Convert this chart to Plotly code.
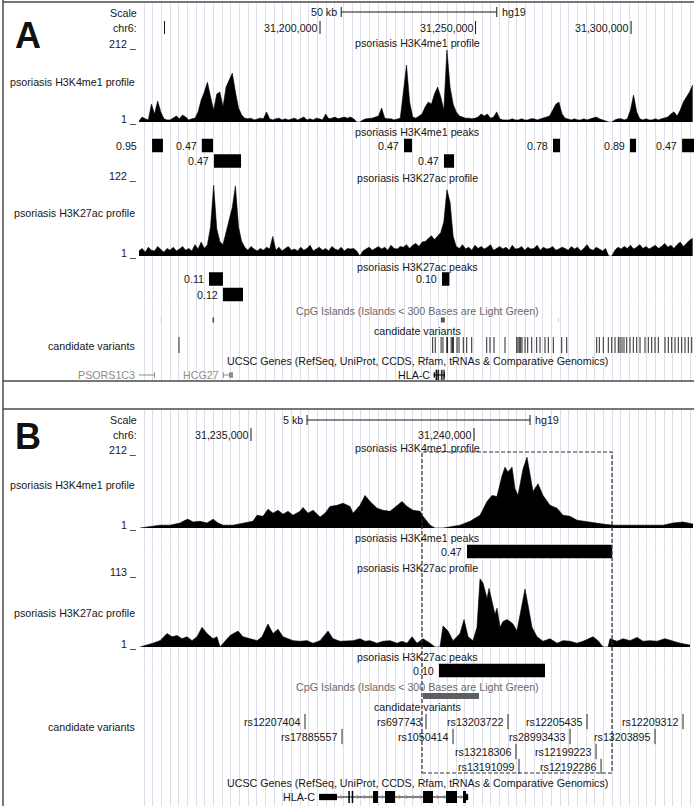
import plotly.graph_objects as go
import numpy as np

W, H = 697, 806
FONT = "Liberation Sans, Arial, Helvetica, sans-serif"
FS = 10.7
TXT = "#161616"
GREY_TXT = "#6a6a6a"
GENE_GREY = "#8c8c8c"
GRID = "#dfdfeb"

# ======================= DATA =======================
# ---- Panel A: chr6 wide window (hg19) ----
A_START, A_END = 31141800, 31320230
A_BIN = 1000
A_K4ME1 = [3, 14, 9, 6, 51, 23, 60, 29, 9, 6,
           6, 11, 17, 9, 20, 14, 6, 9, 11, 29,
           63, 86, 114, 72, 34, 80, 86, 43, 100, 120,
           140, 86, 40, 20, 11, 9, 11, 6, 9, 11,
           9, 29, 9, 6, 9, 11, 6, 9, 6, 9,
           11, 6, 9, 14, 6, 9, 6, 11, 9, 6,
           23, 9, 11, 14, 9, 11, 14, 11, 14, 9,
           0, 0, 6, 9, 9, 11, 14, 17, 40, 11,
           9, 9, 6, 9, 11, 86, 163, 57, 14, 11,
           17, 23, 43, 57, 51, 80, 100, 72, 34, 206,
           100, 51, 29, 17, 14, 11, 11, 9, 11, 14,
           23, 17, 23, 11, 14, 29, 9, 6, 6, 6,
           9, 6, 6, 9, 6, 6, 9, 9, 6, 9,
           11, 14, 17, 34, 51, 57, 23, 11, 9, 6,
           9, 6, 6, 9, 6, 9, 11, 14, 9, 6,
           3, 0, 0, 6, 9, 9, 6, 9, 34, 77,
           29, 9, 6, 9, 6, 6, 9, 6, 9, 11,
           14, 23, 29, 17, 34, 57, 72, 86, 106]
A_K27AC = [8, 12, 6, 14, 9, 8, 15, 11, 6, 12,
           9, 14, 8, 11, 15, 9, 12, 8, 18, 11,
           22, 12, 18, 46, 112, 43, 23, 18, 39, 55,
           77, 111, 46, 23, 14, 9, 15, 11, 8, 12,
           9, 14, 11, 31, 9, 14, 8, 12, 15, 9,
           11, 8, 14, 9, 12, 17, 8, 11, 14, 9,
           12, 8, 15, 11, 9, 14, 8, 12, 11, 12,
           8, 0, 8, 11, 14, 9, 12, 15, 11, 14,
           9, 17, 12, 11, 15, 14, 18, 12, 17, 20,
           15, 22, 23, 28, 32, 26, 31, 37, 54, 105,
           85, 31, 15, 12, 18, 11, 14, 9, 17, 12,
           15, 11, 14, 18, 9, 12, 15, 11, 14, 9,
           17, 11, 12, 15, 9, 14, 11, 12, 17, 9,
           14, 11, 12, 15, 9, 11, 14, 12, 9, 15,
           11, 14, 8, 12, 18, 11, 9, 14, 11, 8,
           12, 0, 0, 9, 14, 11, 15, 12, 17, 11,
           14, 18, 12, 15, 11, 14, 17, 12, 15, 20,
           14, 17, 12, 18, 22, 15, 20, 25, 28]
A_K4ME1_MAX, A_K27AC_MAX = 212, 122
A_RULER_TICKS = [31150000, 31200000, 31250000, 31300000]
A_RULER_LABELED = [False, True, True, True]
A_SCALE_BAR = [31206820, 31256820]
A_SCALE_LABEL = "50 kb"

# ---- Panel B: zoom on HLA-C ----
B_START, B_END = 31232489, 31244932
B_K4ME1_POS = [31232512, 31232736, 31232960, 31233184, 31233409, 31233521, 31233588, 31233700, 31233857, 31234014,
               31234149, 31234261, 31234373, 31234597, 31234821, 31235045, 31235135, 31235269, 31235381, 31235493,
               31235605, 31235718, 31235830, 31235942, 31236099, 31236166, 31236278, 31236391, 31236548, 31236660,
               31236772, 31236929, 31237064, 31237220, 31237287, 31237444, 31237556, 31237668, 31237825, 31237960,
               31238117, 31238274, 31238386, 31238498, 31238633, 31238790, 31238857, 31239014, 31239126, 31239305,
               31239462, 31239686, 31239910, 31240135, 31240292, 31240403, 31240515, 31240627, 31240695, 31240762,
               31240852, 31240919, 31240986, 31241099, 31241188, 31241256, 31241323, 31241435, 31241547, 31241704,
               31241861, 31241996, 31242153, 31242310, 31242444, 31242669, 31242893, 31243117, 31243341, 31243565,
               31243789, 31244013, 31244237, 31244461, 31244686, 31244910]
B_K4ME1_VAL = [0, 3, 8, 8, 14, 22, 25, 17, 19, 14,
               25, 14, 8, 8, 14, 19, 36, 33, 53, 42,
               50, 39, 47, 36, 47, 58, 42, 50, 31, 42,
               61, 64, 70, 61, 42, 64, 92, 75, 56, 50,
               47, 64, 75, 61, 50, 47, 33, 8, 0, 0,
               3, 8, 19, 36, 75, 92, 89, 147, 172, 158,
               172, 111, 92, 167, 200, 147, 103, 125, 92, 64,
               56, 36, 33, 22, 19, 14, 11, 8, 8, 8,
               8, 8, 8, 14, 17, 11]
B_K27AC_POS = [31232512, 31232669, 31232803, 31232960, 31233117, 31233229, 31233341, 31233453, 31233566, 31233678,
               31233790, 31233902, 31234014, 31234149, 31234238, 31234305, 31234373, 31234530, 31234709, 31234821,
               31234978, 31235135, 31235247, 31235381, 31235493, 31235605, 31235718, 31235830, 31235942, 31236099,
               31236256, 31236391, 31236548, 31236727, 31236839, 31236996, 31237153, 31237287, 31237444, 31237556,
               31237668, 31237825, 31237960, 31238117, 31238274, 31238386, 31238498, 31238610, 31238722, 31238857,
               31239014, 31239126, 31239238, 31239305, 31239417, 31239529, 31239686, 31239776, 31239866, 31239978,
               31240067, 31240135, 31240202, 31240292, 31240336, 31240403, 31240471, 31240515, 31240583, 31240650,
               31240740, 31240807, 31240874, 31240963, 31241076, 31241143, 31241210, 31241300, 31241412, 31241547,
               31241704, 31241861, 31241996, 31242153, 31242310, 31242444, 31242669, 31242781, 31242893, 31243005,
               31243050, 31243206, 31243341, 31243498, 31243655, 31243789, 31243946, 31244102, 31244282, 31244461,
               31244619, 31244843]
B_K27AC_VAL = [0, 3, 6, 10, 21, 16, 18, 13, 16, 10,
               16, 31, 21, 13, 16, 0, 6, 18, 25, 16,
               13, 10, 16, 36, 21, 28, 16, 13, 10, 9,
               10, 6, 10, 25, 13, 9, 9, 10, 13, 9,
               10, 6, 9, 10, 6, 9, 6, 16, 6, 13,
               6, 0, 0, 33, 25, 10, 21, 43, 16, 10,
               31, 107, 100, 76, 92, 70, 51, 61, 31, 40,
               43, 40, 36, 25, 70, 91, 66, 31, 16, 9,
               13, 6, 10, 9, 6, 9, 16, 10, 0, 0,
               13, 9, 13, 10, 15, 9, 10, 9, 13, 9,
               6, 3]
B_K4ME1_MAX, B_K27AC_MAX = 212, 113
B_RULER_TICKS = [31235000, 31240000]
B_SCALE_BAR = [31236256, 31241256]
B_SCALE_LABEL = "5 kb"
B_HIGHLIGHT = [31238834, 31243094]

# ---- shared annotation tracks ----
K4ME1_PEAK_START = [31146000, 31162000, 31227000, 31274900, 31299650, 31316400, 31165900, 31239843]
K4ME1_PEAK_END = [31149500, 31165600, 31229570, 31277150, 31301600, 31320550, 31174600, 31243094]
K4ME1_PEAK_SCORE = ["0.95", "0.47", "0.47", "0.78", "0.89", "0.47", "0.47", "0.47"]
K4ME1_PEAK_ROW_A = [1, 1, 1, 1, 1, 1, 2, 2]
K27AC_PEAK_START = [31164300, 31239215, 31168800]
K27AC_PEAK_END = [31168800, 31241592, 31175240]
K27AC_PEAK_SCORE = ["0.11", "0.10", "0.12"]
K27AC_PEAK_ROW_A = [1, 1, 2]

CPG_START = [31148700, 31165400, 31238856, 31276400]
CPG_END = [31149000, 31165950, 31240112, 31276700]
CPG_SHORT = [True, False, False, True]

VAR_NAMES = ["rs12207404", "rs697743", "rs13203722", "rs12205435", "rs12209312",
             "rs17885557", "rs1050414", "rs28993433", "rs13203895",
             "rs13218306", "rs12199223", "rs13191099", "rs12192286"]
VAR_POS = [31236211, 31238924, 31240762, 31242534, 31244686,
           31237041, 31239529, 31242153, 31244058,
           31240940, 31242736, 31241008, 31242848]
VAR_ROW_B = [1, 1, 1, 1, 1, 2, 2, 2, 2, 3, 3, 4, 4]
VAR_OTHER_POS_A = [31154660, 31246063, 31247156, 31248764, 31253586, 31254647, 31255933, 31259469,
                   31263231, 31263649, 31264066, 31264516, 31264934, 31265899, 31266767, 31268053,
                   31269660, 31270722, 31272329, 31273390, 31274997, 31277698, 31279306, 31288951,
                   31289787, 31291073, 31292680, 31293773, 31294834, 31295895, 31296442, 31297085,
                   31297728, 31298596, 31299657, 31300718, 31301811, 31302872, 31304479, 31305540,
                   31306633, 31307694, 31308755, 31310909, 31311970, 31313063, 31314124, 31315185,
                   31316278, 31317339, 31318400, 31319493]

GENE_NAMES = ["PSORS1C3", "HCG27", "HLA-C"]
GENE_START = [31141800, 31168800, 31236526]
GENE_END = [31146940, 31172000, 31239869]
GENE_STRAND = ["-", "+", "-"]
GENE_DARK = [False, False, True]
EXON_GENE = ["PSORS1C3", "HCG27", "HCG27",
             "HLA-C", "HLA-C", "HLA-C", "HLA-C", "HLA-C", "HLA-C", "HLA-C", "HLA-C", "HLA-C"]
EXON_START = [31146620, 31168800, 31170735,
              31236526, 31237182, 31237258, 31237735, 31238004, 31238857, 31239372, 31239753, 31239820]
EXON_END = [31146940, 31169050, 31172020,
            31236928, 31237216, 31237292, 31237848, 31238229, 31239081, 31239619, 31239820, 31239869]
EXON_THICK = [False, False, False,
              False, True, True, True, True, True, True, True, False]

UCSC_GENES_TITLE = "UCSC Genes (RefSeq, UniProt, CCDS, Rfam, tRNAs &amp; Comparative Genomics)"
CPG_TITLE = "CpG Islands (Islands &lt; 300 Bases are Light Green)"

# ======================= LAYOUT HELPERS =======================
DATA_L, DATA_R = 139, 694
CX = 417


def px(x):
    return x / W


def py(y):
    return 1 - y / H


layout_axes = {}
# name, xaxis, top px, bottom px, range
TRACKS = [
    ("y", "x", 3, 381, [0, 1]),
    ("y2", "x", 48, 122, [0, A_K4ME1_MAX]),
    ("y3", "x", 137.75, 168.75, [2.5, 0.5]),
    ("y4", "x", 179, 256, [0, A_K27AC_MAX]),
    ("y5", "x", 271.25, 302.25, [2.5, 0.5]),
    ("y6", "x", 314, 326, [1.5, 0.5]),
    ("y7", "x", 337, 353, [0, 1]),
    ("y8", "x", 369, 381, [1.5, 0.5]),
    ("y9", "x2", 410, 806, [0, 1]),
    ("y10", "x2", 453, 528, [0, B_K4ME1_MAX]),
    ("y11", "x2", 543.75, 559.25, [1.5, 0.5]),
    ("y12", "x2", 575, 647, [0, B_K27AC_MAX]),
    ("y13", "x2", 662.75, 678.25, [1.5, 0.5]),
    ("y14", "x2", 690, 702, [1.5, 0.5]),
    ("y15", "x2", 714, 774, [4.5, 0.5]),
    ("y16", "x2", 790, 804, [1.5, 0.5]),
]
for name, xa, top, bot, rng in TRACKS:
    layout_axes["yaxis" + name[1:]] = dict(domain=[py(bot), py(top)], range=rng, anchor=xa,
                                           visible=False, fixedrange=True)

A_BPPX = (A_END - A_START) / (DATA_R - DATA_L)
B_BPPX = (B_END - B_START) / (DATA_R - DATA_L)
GRID_PX = 8.67


def xaxis_cfg(lo, hi, bppx, anchor):
    return dict(domain=[px(DATA_L), px(DATA_R)], range=[lo, hi], anchor=anchor,
                showgrid=True, gridcolor=GRID, gridwidth=1,
                tick0=lo + 5 * bppx, dtick=GRID_PX * bppx,
                showticklabels=False, ticks="", zeroline=False, showline=False, fixedrange=True)


layout_axes["xaxis"] = xaxis_cfg(A_START, A_END, A_BPPX, "y")
layout_axes["xaxis2"] = xaxis_cfg(B_START, B_END, B_BPPX, "y9")

traces = []
ann = []
shapes = []


def text(x, y, s, xanchor="right", size=FS, color=TXT, xref="paper", yref="paper", xshift=0):
    ann.append(dict(x=x, y=y, xref=xref, yref=yref, text=s, showarrow=False, xanchor=xanchor,
                    yanchor="middle", xshift=xshift, borderpad=0,
                    font=dict(family=FONT, size=size, color=color)))


def line(x0, y0, x1, y1, xref="paper", yref="paper", color=TXT, width=1, dash=None):
    d = dict(type="line", x0=x0, y0=y0, x1=x1, y1=y1, xref=xref, yref=yref,
             line=dict(color=color, width=width))
    if dash:
        d["line"]["dash"] = dash
    shapes.append(d)


# anchors for the grid subplots
for xa, ya in [("x", "y"), ("x2", "y9")]:
    traces.append(go.Scatter(x=[], y=[], xaxis=xa, yaxis=ya, showlegend=False))


def profile(xs, vals, xa, ya):
    traces.append(go.Scatter(x=xs, y=vals, mode="lines", line=dict(color="black", width=0.6),
                             fill="tozeroy", fillcolor="black", xaxis=xa, yaxis=ya,
                             showlegend=False, hoverinfo="skip"))


def peaks(starts, ends, rows, labels, xa, ya, lo, bppx):
    traces.append(go.Bar(orientation="h", y=rows, base=starts,
                         x=[e - s for s, e in zip(starts, ends)], width=0.87,
                         marker=dict(color="black", line=dict(width=0)),
                         xaxis=xa, yaxis=ya, showlegend=False, hoverinfo="skip"))
    for s, r, lab in zip(starts, rows, labels):
        if (s - lo) / bppx < 24:
            text(lo, r, lab, xref=xa, yref=ya, xshift=-1)
        else:
            text(s, r, lab, xref=xa, yref=ya, xshift=-4)


def ruler(ticks, labeled, scale_bar, scale_label, xa, y_scale, y_ruler):
    line(scale_bar[0], py(y_scale), scale_bar[1], py(y_scale), xref=xa)
    for b in scale_bar:
        line(b, py(y_scale - 5), b, py(y_scale + 5), xref=xa)
    text(scale_bar[0], py(y_scale), scale_label, xref=xa, xshift=-3)
    text(scale_bar[1], py(y_scale), "hg19", xanchor="left", xref=xa, xshift=4)
    for t, lab in zip(ticks, labeled):
        line(t, py(y_ruler - 7), t, py(y_ruler + 6), xref=xa)
        if lab:
            text(t, py(y_ruler), f"{t:,}", xref=xa, xshift=-1)


def genes(xa, ya, lo, hi, bppx, show_chevrons, names):
    for g, s, e, strand, dark in zip(GENE_NAMES, GENE_START, GENE_END, GENE_STRAND, GENE_DARK):
        if g not in names or e < lo or s > hi:
            continue
        col = "black" if dark else GENE_GREY
        ex = [(a, b, t) for gg, a, b, t in zip(EXON_GENE, EXON_START, EXON_END, EXON_THICK) if gg == g]
        if s >= lo:
            traces.append(go.Scatter(x=[s, e], y=[1, 1], mode="lines",
                                     line=dict(color=col, width=1), xaxis=xa, yaxis=ya,
                                     showlegend=False, hoverinfo="skip"))
        traces.append(go.Bar(orientation="h", y=[1] * len(ex), base=[a for a, b, t in ex],
                             x=[max(b - a, 0.9 * bppx) for a, b, t in ex],
                             width=[0.86 if t else 0.45 for a, b, t in ex],
                             marker=dict(color=col, line=dict(width=0)),
                             xaxis=xa, yaxis=ya, showlegend=False, hoverinfo="skip"))
        if s < lo:
            # item continues beyond the left edge of the window: open edge arrows
            edge = [lo + k * bppx for k in (5, 10.5)]
            traces.append(go.Scatter(x=edge, y=[1, 1], mode="text", text=["\u25c1", "\u25c1"],
                                     textfont=dict(family="DejaVu Sans", size=12, color="#a0a0a0"),
                                     xaxis=xa, yaxis=ya, showlegend=False, hoverinfo="skip",
                                     cliponaxis=False))
            text(lo, 1, g, xref=xa, yref=ya, color=GENE_GREY, xshift=0)
        else:
            text(s, 1, g, xref=xa, yref=ya, color=TXT if dark else GENE_GREY, xshift=-3)
        if show_chevrons or g == "HCG27":
            # chevrons along introns
            ex_sorted = sorted(ex)
            chev = []
            for (a1, b1, _), (a2, b2, _) in zip(ex_sorted[:-1], ex_sorted[1:]):
                if (a2 - b1) / bppx > 5:
                    chev += list(np.arange(b1 + 3.5 * bppx, a2 - 2 * bppx, 7 * bppx))
            traces.append(go.Scatter(x=chev, y=[1] * len(chev), mode="text",
                                     text=["\u2039" if strand == "-" else "\u203a"] * len(chev),
                                     textfont=dict(family=FONT, size=11, color="#9a9a9a"),
                                     xaxis=xa, yaxis=ya, showlegend=False, hoverinfo="skip"))


# ======================= PANEL A =======================
a_x = [A_START + A_BIN * i for i in range(len(A_K4ME1))]
profile(a_x, A_K4ME1, "x", "y2")
a_x2 = [A_START + A_BIN * i for i in range(len(A_K27AC))]
profile(a_x2, A_K27AC, "x", "y4")
peaks(K4ME1_PEAK_START, K4ME1_PEAK_END, K4ME1_PEAK_ROW_A, K4ME1_PEAK_SCORE, "x", "y3", A_START, A_BPPX)
peaks(K27AC_PEAK_START, K27AC_PEAK_END, K27AC_PEAK_ROW_A, K27AC_PEAK_SCORE, "x", "y5", A_START, A_BPPX)

traces.append(go.Bar(orientation="h", y=[1] * len(CPG_START), base=CPG_START,
                     x=[max(e - s, 1.5 * A_BPPX) for s, e in zip(CPG_START, CPG_END)], width=0.42,
                     marker=dict(color=["#d6e3d6" if sh else "#555555" for sh in CPG_SHORT],
                                 line=dict(width=0)),
                     xaxis="x", yaxis="y6", showlegend=False, hoverinfo="skip"))

all_var_a = VAR_POS + VAR_OTHER_POS_A
traces.append(go.Scatter(x=all_var_a, y=[0.5] * len(all_var_a), mode="markers",
                         marker=dict(symbol="line-ns-open", size=16, color="#262626",
                                     line=dict(width=1, color="#262626")),
                         xaxis="x", yaxis="y7", showlegend=False, hoverinfo="skip"))
genes("x", "y8", A_START, A_END, A_BPPX, False, GENE_NAMES)
ruler(A_RULER_TICKS, A_RULER_LABELED, A_SCALE_BAR, A_SCALE_LABEL, "x", 12, 28)

# left labels A
text(px(138), py(13), "Scale")
text(px(138), py(28), "chr6:")
text(px(138), py(44), "212 _")
text(px(136), py(82), "psoriasis H3K4me1 profile")
text(px(138), py(119), "1 _")
text(px(138), py(176), "122 _")
text(px(136), py(213), "psoriasis H3K27ac profile")
text(px(138), py(253), "1 _")
text(px(136), py(346), "candidate variants")
# track titles A
for y, s, c in [(43, "psoriasis H3K4me1 profile", TXT), (132, "psoriasis H3K4me1 peaks", TXT),
                (178, "psoriasis H3K27ac profile", TXT), (267, "psoriasis H3K27ac peaks", TXT),
                (311, CPG_TITLE, GREY_TXT), (331, "candidate variants", TXT),
                (361, UCSC_GENES_TITLE, TXT)]:
    text(px(CX), py(y), s, xanchor="center", color=c)
text(px(28), py(35), "<b>A</b>", xanchor="center", size=36, color="#111")

# ======================= PANEL B =======================
profile(B_K4ME1_POS, B_K4ME1_VAL, "x2", "y10")
profile(B_K27AC_POS, B_K27AC_VAL, "x2", "y12")


def in_b(starts, ends):
    return [i for i, (s, e) in enumerate(zip(starts, ends)) if e > B_START and s < B_END]


ik = in_b(K4ME1_PEAK_START, K4ME1_PEAK_END)
peaks([K4ME1_PEAK_START[i] for i in ik], [min(K4ME1_PEAK_END[i], B_END) for i in ik], [1] * len(ik),
      [K4ME1_PEAK_SCORE[i] for i in ik], "x2", "y11", B_START, B_BPPX)
ia = in_b(K27AC_PEAK_START, K27AC_PEAK_END)
peaks([K27AC_PEAK_START[i] for i in ia], [K27AC_PEAK_END[i] for i in ia], [1] * len(ia),
      [K27AC_PEAK_SCORE[i] for i in ia], "x2", "y13", B_START, B_BPPX)
ic = in_b(CPG_START, CPG_END)
traces.append(go.Bar(orientation="h", y=[1] * len(ic), base=[CPG_START[i] for i in ic],
                     x=[CPG_END[i] - CPG_START[i] for i in ic], width=0.5,
                     marker=dict(color="#5f5f5f", line=dict(width=0)),
                     xaxis="x2", yaxis="y14", showlegend=False, hoverinfo="skip"))
traces.append(go.Scatter(x=VAR_POS, y=VAR_ROW_B, mode="markers",
                         marker=dict(symbol="line-ns-open", size=11, color="#262626",
                                     line=dict(width=1, color="#262626")),
                         xaxis="x2", yaxis="y15", showlegend=False, hoverinfo="skip"))
for n, p, r in zip(VAR_NAMES, VAR_POS, VAR_ROW_B):
    text(p, r, n, xref="x2", yref="y15", xshift=-3)
genes("x2", "y16", B_START, B_END, B_BPPX, True, ["HLA-C"])
ruler(B_RULER_TICKS, [True, True], B_SCALE_BAR, B_SCALE_LABEL, "x2", 420, 435)

text(px(138), py(420), "Scale")
text(px(138), py(435), "chr6:")
text(px(138), py(450), "212 _")
text(px(136), py(485), "psoriasis H3K4me1 profile")
text(px(138), py(525), "1 _")
text(px(138), py(572), "113 _")
text(px(136), py(613), "psoriasis H3K27ac profile")
text(px(138), py(644), "1 _")
text(px(136), py(727), "candidate variants")
for y, s, c in [(448, "psoriasis H3K4me1 profile", TXT), (538, "psoriasis H3K4me1 peaks", TXT),
                (568, "psoriasis H3K27ac profile", TXT), (657, "psoriasis H3K27ac peaks", TXT),
                (687, CPG_TITLE, GREY_TXT), (707, "candidate variants", TXT),
                (783, UCSC_GENES_TITLE, TXT)]:
    text(px(CX), py(y), s, xanchor="center", color=c)
text(px(28), py(437), "<b>B</b>", xanchor="center", size=36, color="#111")

# highlight box
shapes.append(dict(type="rect", xref="x2", yref="paper", x0=B_HIGHLIGHT[0], x1=B_HIGHLIGHT[1],
                   y0=py(773), y1=py(452), line=dict(color="#333", width=1.2, dash="4px,2px"),
                   fillcolor="rgba(0,0,0,0)"))

# panel frames
FRAME = "#4a4a4a"
line(px(3), py(0), px(3), py(806), color=FRAME, width=1.5)
line(px(3), py(2), px(694), py(2), color=FRAME, width=1.5)
line(px(3), py(381), px(694), py(381), color=FRAME, width=1.5)
line(px(3), py(409), px(694), py(409), color=FRAME, width=1.5)

fig = go.Figure(data=traces)
fig.update_layout(width=W, height=H, margin=dict(l=0, r=0, t=0, b=0),
                  paper_bgcolor="white", plot_bgcolor="white", barmode="overlay",
                  showlegend=False, annotations=ann, shapes=shapes,
                  font=dict(family=FONT, size=FS, color=TXT), **layout_axes)
fig.write_html("out.html", config={"displayModeBar": False, "staticPlot": True},
               post_script="document.body.style.margin='0';document.body.style.overflow='hidden';")
